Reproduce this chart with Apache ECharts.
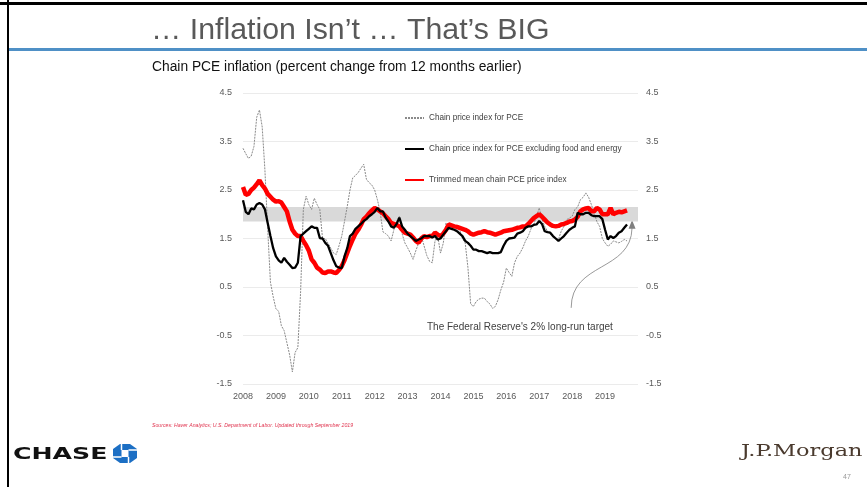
<!DOCTYPE html>
<html>
<head>
<meta charset="utf-8">
<title>Chain PCE inflation</title>
<script src="https://cdn.jsdelivr.net/npm/echarts@6/dist/echarts.min.js"></script>
<style>
  html, body { margin: 0; padding: 0; background: #fff; }
  #chart { width: 867px; height: 487px; }
</style>
</head>
<body>
<div id="chart"></div>
<script>
// monthly series, Jan 2008 .. Sep 2019
const startYear = 2008
const yearLabels = [2008, 2009, 2010, 2011, 2012, 2013, 2014, 2015, 2016, 2017, 2018, 2019]

const headlinePce = [
  3.36, 3.25, 3.15, 3.2, 3.4, 4.0, 4.15, 3.8, 2.9, 1.7, 0.6, 0.3,
  0.05, 0.0, -0.3, -0.4, -0.65, -0.9, -1.25, -0.85, -0.75, 0.4, 2.1, 2.37,
  2.2, 2.1, 2.33, 2.2, 2.1, 1.5, 1.5, 1.4, 1.3, 1.2, 1.17, 1.35,
  1.55, 1.85, 2.16, 2.5, 2.75, 2.8, 2.86, 2.95, 3.03, 2.72, 2.65, 2.6,
  2.5, 2.3, 2.05, 1.64, 1.6, 1.55, 1.45, 1.68, 1.85, 1.96, 1.6, 1.41,
  1.31, 1.2, 1.07, 1.25, 1.4, 1.55, 1.35, 1.15, 1.03, 1.0, 1.45, 1.55,
  1.2, 1.4, 1.82, 1.75, 1.78, 1.75, 1.68, 1.68, 1.5, 1.41, 0.9, 0.15,
  0.1, 0.2, 0.25, 0.27, 0.27, 0.2, 0.15, 0.06, 0.1, 0.24, 0.44, 0.6,
  0.89, 0.8, 0.72, 1.0, 1.13, 1.2, 1.31, 1.45, 1.55, 1.7, 1.79, 1.96,
  2.13, 1.9, 1.75, 1.65, 1.6, 1.55, 1.5, 1.48, 1.65, 1.75, 1.89, 1.92,
  1.96, 2.1, 2.15, 2.3, 2.35, 2.44, 2.35, 2.2, 2.03, 1.85, 1.75, 1.5,
  1.41, 1.34, 1.38, 1.45, 1.43, 1.41, 1.44, 1.48, 1.45
]

const corePce = [
  2.29, 2.05, 2.0, 2.12, 2.1, 2.2, 2.23, 2.2, 2.1, 1.82, 1.55, 1.3,
  1.13, 1.05, 1.0, 1.1, 1.02, 0.96, 0.89, 0.9, 1.0, 1.55, 1.6, 1.65,
  1.7, 1.75, 1.72, 1.72, 1.51, 1.5, 1.41, 1.35, 1.2, 1.05, 0.93, 0.9,
  0.89, 1.13, 1.3, 1.55, 1.6, 1.7, 1.75, 1.8, 1.86, 1.9, 1.96, 2.0,
  2.05, 2.13, 2.06, 2.06, 1.93, 1.85, 1.75, 1.72, 1.8, 1.93, 1.75, 1.68,
  1.6, 1.55, 1.5, 1.45, 1.48, 1.5, 1.55, 1.55, 1.55, 1.52, 1.55, 1.48,
  1.5, 1.58, 1.65, 1.72, 1.7, 1.68, 1.65, 1.6, 1.55, 1.45, 1.41, 1.35,
  1.27, 1.27, 1.24, 1.24, 1.22, 1.2, 1.22, 1.2, 1.2, 1.2, 1.22, 1.35,
  1.45, 1.5, 1.51, 1.52, 1.6, 1.62, 1.65, 1.72, 1.75, 1.75, 1.78, 1.79,
  1.86, 1.8, 1.65, 1.63, 1.62, 1.55, 1.5, 1.45, 1.5, 1.55, 1.62, 1.68,
  1.72, 1.75, 2.03, 2.0, 2.0, 2.03, 2.03, 1.98, 1.96, 1.96, 1.96, 1.9,
  1.68, 1.48, 1.55, 1.51, 1.55, 1.62, 1.65, 1.72, 1.79
]

const trimmedMean = [
  2.56, 2.4, 2.42, 2.5, 2.55, 2.62, 2.7, 2.6, 2.53, 2.42, 2.36, 2.3,
  2.26, 2.27, 2.24, 2.15, 2.06, 1.85, 1.68, 1.6, 1.55, 1.55, 1.45, 1.36,
  1.25, 1.07, 1.0, 0.9, 0.86, 0.8, 0.79, 0.82, 0.82, 0.8, 0.79, 0.85,
  0.93, 1.05, 1.2, 1.35, 1.48, 1.6, 1.68, 1.78, 1.9, 1.95, 2.02, 2.08,
  2.13, 2.1, 2.06, 2.02, 1.96, 1.9, 1.82, 1.8, 1.78, 1.75, 1.68, 1.62,
  1.6, 1.58, 1.52, 1.45, 1.41, 1.5, 1.55, 1.53, 1.55, 1.55, 1.62, 1.58,
  1.55, 1.6, 1.68, 1.79, 1.77, 1.75, 1.74, 1.72, 1.7, 1.68, 1.65, 1.6,
  1.58, 1.6, 1.62, 1.63, 1.65, 1.63, 1.62, 1.6, 1.58, 1.6, 1.62, 1.65,
  1.66, 1.67, 1.68, 1.7, 1.72, 1.73, 1.75, 1.75, 1.8, 1.86, 1.92, 1.96,
  2.0, 1.95, 1.89, 1.83, 1.79, 1.76, 1.75, 1.76, 1.79, 1.8, 1.82, 1.85,
  1.86, 1.89, 1.95, 2.06, 2.1, 2.12, 2.13, 2.06, 2.06, 2.13, 2.1, 2.0,
  2.0, 2.0, 2.13, 2.0, 2.03, 2.05, 2.04, 2.06, 2.08
]

// the Fed's 2% long-run target band
const targetBand = [1.85, 2.15]

const seriesNames = [
  'Chain price index for PCE',
  'Chain price index for PCE excluding food and energy',
  'Trimmed mean chain PCE price index'
]

const toPoints = arr => arr.map((v, i) => [startYear + i / 12, v])

const chart = echarts.init(document.getElementById('chart'))

const axisText = { color: '#595959', fontSize: 9, fontFamily: 'Liberation Sans, Arial, sans-serif' }

const option = {
  animation: false,
  backgroundColor: '#fff',
  grid: { left: 243, right: 229, top: 93, bottom: 103 },
  legend: {
    orient: 'vertical',
    left: 404,
    top: 114,
    itemWidth: 19,
    itemHeight: 10,
    itemGap: 23,
    padding: 0,
    data: seriesNames,
    itemStyle: { opacity: 0 },
    textStyle: { color: '#404040', fontSize: 8.2, fontFamily: 'Liberation Sans, Arial, sans-serif' }
  },
  xAxis: {
    type: 'value',
    min: 2008,
    max: 2020,
    interval: 1,
    axisLine: { show: false },
    axisTick: { show: false },
    splitLine: { show: false },
    axisLabel: {
      ...axisText,
      margin: 8,
      formatter: v => (yearLabels.includes(v) ? String(v) : '')
    }
  },
  yAxis: [
    {
      type: 'value',
      position: 'left',
      min: -1.5,
      max: 4.5,
      interval: 1,
      axisLine: { show: false },
      axisTick: { show: false },
      splitLine: { lineStyle: { color: '#ebebeb', width: 1 } },
      axisLabel: { ...axisText, margin: 11, formatter: v => v.toFixed(1) }
    },
    {
      type: 'value',
      position: 'right',
      min: -1.5,
      max: 4.5,
      interval: 1,
      axisLine: { show: false },
      axisTick: { show: false },
      splitLine: { show: false },
      axisLabel: { ...axisText, margin: 8, formatter: v => v.toFixed(1) }
    }
  ],
  series: [
    {
      name: seriesNames[0],
      type: 'line',
      z: 2,
      symbol: 'none',
      data: toPoints(headlinePce),
      itemStyle: { color: '#8a8a8a' },
      lineStyle: { color: '#8a8a8a', width: 1, type: [2, 1] },
      markArea: {
        silent: true,
        itemStyle: { color: '#d9d9d9' },
        data: [[{ yAxis: targetBand[0] }, { yAxis: targetBand[1] }]]
      }
    },
    {
      name: seriesNames[1],
      type: 'line',
      z: 4,
      symbol: 'none',
      data: toPoints(corePce),
      itemStyle: { color: '#000' },
      lineStyle: { color: '#000', width: 2.3 }
    },
    {
      name: seriesNames[2],
      type: 'line',
      z: 3,
      symbol: 'none',
      data: toPoints(trimmedMean),
      itemStyle: { color: '#ff0000' },
      lineStyle: { color: '#ff0000', width: 4.5 }
    }
  ]
}

chart.setOption(option)

// arrow pointing at the target band, placed in data space
const px = p => chart.convertToPixel({ gridIndex: 0 }, p)
const a0 = px([2017.97, 0.07])
const a1 = px([2017.97, 1.02])
const a2 = px([2019.79, 0.81])
const a3 = px([2019.82, 1.72])
const tip = px([2019.82, 1.88])

chart.setOption({
  graphic: [
    // slide frame
    { type: 'rect', shape: { x: 0, y: 2, width: 867, height: 3 }, style: { fill: '#000' } },
    { type: 'rect', shape: { x: 7, y: 0, width: 2, height: 487 }, style: { fill: '#000' } },
    { type: 'rect', shape: { x: 9, y: 48, width: 858, height: 3 }, style: { fill: '#4f90c6' } },
    {
      type: 'text', x: 151, y: 16,
      style: { text: '… Inflation Isn’t … That’s BIG', fill: '#595959', font: '30.3px Liberation Sans, Arial, sans-serif' }
    },
    {
      type: 'text', x: 152, y: 60,
      style: { text: 'Chain PCE inflation (percent change from 12 months earlier)', fill: '#111', font: '13.8px Liberation Sans, Arial, sans-serif' }
    },
    {
      type: 'text', x: 427, y: 322,
      style: { text: 'The Federal Reserve\'s 2% long-run target', fill: '#404040', font: '10px Liberation Sans, Arial, sans-serif' }
    },
    {
      type: 'bezierCurve',
      shape: { x1: a0[0], y1: a0[1], cpx1: a1[0], cpy1: a1[1], cpx2: a2[0], cpy2: a2[1], x2: a3[0], y2: a3[1] },
      style: { stroke: '#7f7f7f', lineWidth: 0.8, fill: null }
    },
    {
      type: 'polygon',
      shape: { points: [[tip[0], tip[1]], [tip[0] - 3.5, a3[1] + 1], [tip[0] + 3.5, a3[1] + 1]] },
      style: { fill: '#7f7f7f' }
    },
    {
      type: 'text', x: 152, y: 423,
      style: { text: 'Sources: Haver Analytics; U.S. Department of Labor. Updated through September 2019', fill: '#e0344f', font: 'italic 5.2px Liberation Sans, Arial, sans-serif' }
    },
    // CHASE logo
    {
      type: 'text', x: 13, y: 448, scaleX: 1.68,
      style: { text: 'CHASE', fill: '#111', font: 'bold 15px DejaVu Sans, sans-serif' }
    },
    {
      type: 'polygon',
      shape: { points: [[120, 444], [130, 444], [137, 449], [137, 458], [130, 463], [120, 463], [113, 458], [113, 449]] },
      style: { fill: '#1c6fc4' }
    },
    { type: 'rect', shape: { x: 121.5, y: 450, width: 7, height: 7 }, style: { fill: '#fff' } },
    { type: 'line', shape: { x1: 121.5, y1: 450, x2: 121.5, y2: 444 }, style: { stroke: '#fff', lineWidth: 1.5 } },
    { type: 'line', shape: { x1: 128.5, y1: 450, x2: 137, y2: 450 }, style: { stroke: '#fff', lineWidth: 1.5 } },
    { type: 'line', shape: { x1: 128.5, y1: 457, x2: 128.5, y2: 463 }, style: { stroke: '#fff', lineWidth: 1.5 } },
    { type: 'line', shape: { x1: 121.5, y1: 457, x2: 113, y2: 457 }, style: { stroke: '#fff', lineWidth: 1.5 } },
    // J.P.Morgan
    {
      type: 'text', x: 741, y: 443, scaleX: 1.32,
      style: { text: 'J.P.Morgan', fill: '#4a3a2e', font: '17px DejaVu Serif, serif' }
    },
    {
      type: 'text', x: 843, y: 474,
      style: { text: '47', fill: '#999', font: '7px Liberation Sans, Arial, sans-serif' }
    }
  ]
})
</script>
</body>
</html>
